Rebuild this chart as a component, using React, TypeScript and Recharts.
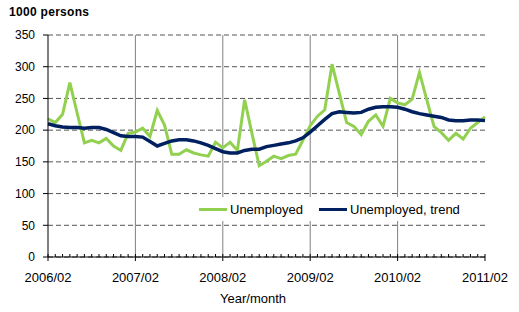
import React from "react";
import {
  LineChart,
  Line,
  XAxis,
  YAxis,
  CartesianGrid,
  ReferenceLine,
  Legend,
} from "recharts";

// monthly categories 2006/02 .. 2011/02
const months: string[] = [];
for (let y = 2006; y <= 2011; y++) {
  for (let m = 1; m <= 12; m++) {
    if (y === 2006 && m < 2) continue;
    if (y === 2011 && m > 2) break;
    months.push(`${y}/${String(m).padStart(2, "0")}`);
  }
}

const unemployed = [
  218, 212, 225, 275, 227, 180, 184, 180, 187, 175, 168, 195,
  197, 203, 190, 231, 208, 162, 162, 169, 164, 161, 159, 181,
  172, 181, 168, 248, 195, 144, 151, 159, 155, 160, 162, 184,
  207, 222, 232, 304, 258, 212, 206, 193, 214, 224, 206, 250,
  243, 240, 249, 291, 248, 206, 196, 184, 195, 186, 203, 212,
  221,
];

const trend = [
  210, 207, 205, 204, 204, 203, 204, 204, 201, 196, 191, 190,
  190, 189, 182, 175, 179, 183, 185, 185, 183, 180, 176, 171,
  166, 164, 164, 168, 170, 170, 174, 176, 178, 180, 183, 188,
  197, 207, 217, 226, 229, 228, 227, 228, 233, 236, 237, 237,
  236, 233, 229, 226, 224, 222, 220, 216, 215, 215, 216, 216,
  215,
];

const yearTicks = ["2006/02", "2007/02", "2008/02", "2009/02", "2010/02", "2011/02"];
const yTicks = [0, 50, 100, 150, 200, 250, 300, 350];

const data = months.map((month, i) => ({
  month,
  unemployed: unemployed[i],
  trend: trend[i],
}));

const FONT = "Arial, 'Liberation Sans', sans-serif";
const GREEN = "#92D050";
const NAVY = "#002060";

function MonthTick(props: any) {
  const { x, y, payload } = props;
  const major = yearTicks.includes(payload.value);
  return (
    <g>
      <line x1={x} x2={x} y1={y - 3} y2={major ? y + 4 : y} stroke="#000" strokeWidth={1} />
      {major && (
        <text x={x} y={y + 25} textAnchor="middle" fontSize={13} fill="#000" fontFamily={FONT}>
          {payload.value}
        </text>
      )}
    </g>
  );
}

function LegendBox({ payload }: any) {
  return (
    <div
      style={{
        background: "#fff",
        width: 272,
        height: 24,
        display: "flex",
        alignItems: "center",
        paddingLeft: 4,
        boxSizing: "border-box",
        fontFamily: FONT,
        fontSize: 13,
        color: "#000",
      }}
    >
      {(payload || []).map((p: any, i: number) => (
        <div key={i} style={{ display: "flex", alignItems: "center", width: i === 0 ? 120 : undefined }}>
          <span style={{ display: "inline-block", width: 28, height: 3, background: p.color, marginRight: 3 }} />
          <span>{p.value}</span>
        </div>
      ))}
    </div>
  );
}

export default function App() {
  return (
    <div style={{ position: "absolute", left: 0, top: 0, width: 519, height: 312, background: "#fff" }}>
      <div
        style={{
          position: "absolute",
          left: 9,
          top: 5,
          fontFamily: FONT,
          fontSize: 12,
          fontWeight: "bold",
          letterSpacing: 0.3,
          color: "#000",
        }}
      >
        1000 persons
      </div>
      <div
        style={{
          position: "absolute",
          left: 220,
          top: 291,
          fontFamily: FONT,
          fontSize: 13,
          color: "#000",
        }}
      >
        Year/month
      </div>
      <LineChart
        width={519}
        height={312}
        data={data}
        margin={{ top: 35, right: 34, left: 0, bottom: 25 }}
      >
        <CartesianGrid vertical={false} stroke="#555" strokeDasharray="5 3" />
        {yearTicks.slice(1, -1).map((t) => (
          <ReferenceLine key={t} x={t} stroke="#808080" strokeWidth={1} />
        ))}
        <XAxis
          dataKey="month"
          interval={0}
          tickLine={false}
          tickSize={0}
          tickMargin={0}
          height={30}
          axisLine={{ stroke: "#000" }}
          tick={<MonthTick />}
        />
        <XAxis xAxisId="top" dataKey="month" orientation="top" height={0} tick={false} tickLine={false} axisLine={{ stroke: "#000" }} />
        <YAxis
          domain={[0, 350]}
          ticks={yTicks}
          width={48}
          tickSize={5}
          tickMargin={8}
          axisLine={{ stroke: "#000" }}
          tickLine={{ stroke: "#000" }}
          tick={{ fontSize: 12, fill: "#000", fontFamily: FONT }}
        />
        <YAxis yAxisId="right" orientation="right" domain={[0, 350]} width={0} tick={false} tickLine={false} axisLine={{ stroke: "#000" }} />
        <Legend
          layout="horizontal"
          verticalAlign="middle"
          align="center"
          content={<LegendBox />}
          wrapperStyle={{ position: "absolute", left: 195, top: 197, width: 272, height: 24 }}
        />
        <Line
          type="linear"
          dataKey="unemployed"
          name="Unemployed"
          stroke={GREEN}
          strokeWidth={3}
          dot={false}
          isAnimationActive={false}
        />
        <Line
          type="linear"
          dataKey="trend"
          name="Unemployed, trend"
          stroke={NAVY}
          strokeWidth={3.5}
          dot={false}
          isAnimationActive={false}
        />
      </LineChart>
    </div>
  );
}
